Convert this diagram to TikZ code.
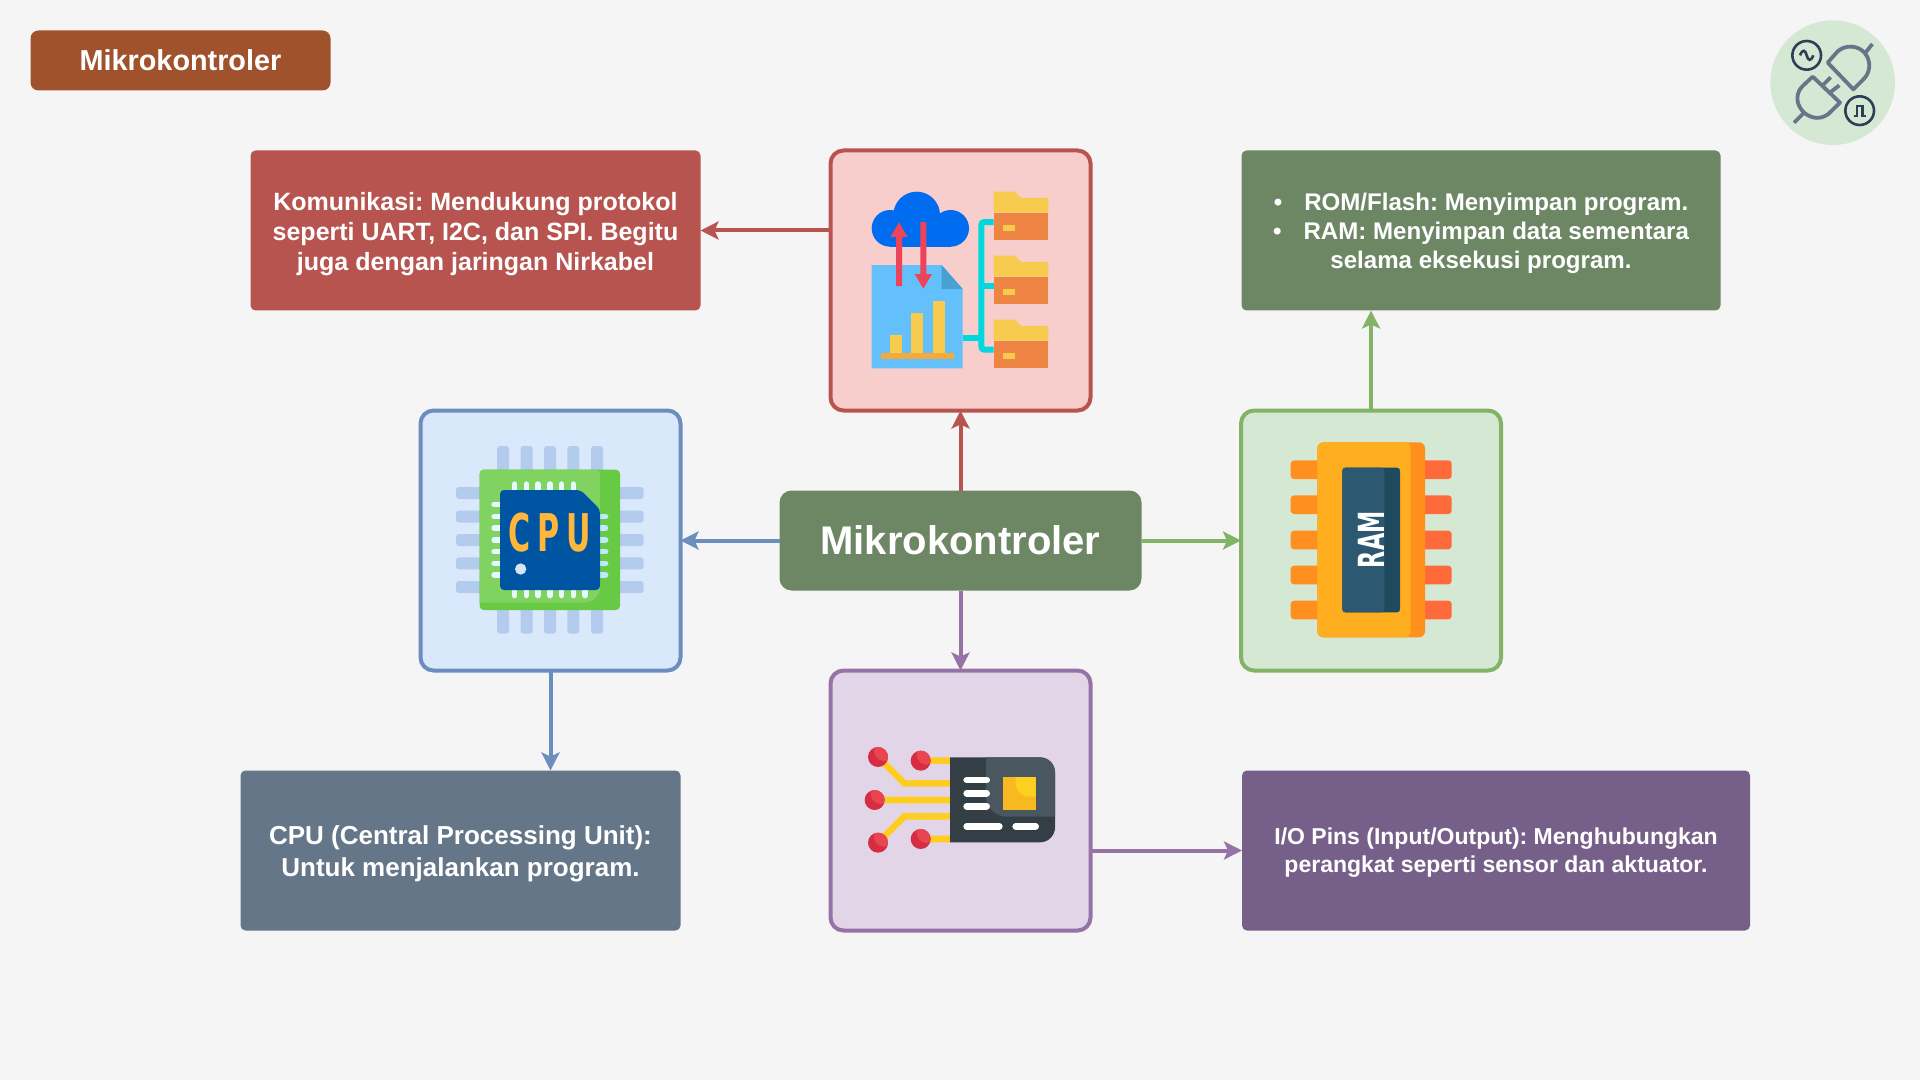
\documentclass[tikz,border=0pt]{standalone}
\usepackage{fontspec}
\usepackage{tikz}
\usetikzlibrary{arrows.meta}
\setmainfont{Liberation Sans}
\newfontfamily\dejavu{DejaVu Sans}
\frenchspacing

\definecolor{latar}{HTML}{F5F5F5}
\definecolor{merahgaris}{HTML}{B85450}
\definecolor{merahisi}{HTML}{F8CECC}
\definecolor{birugaris}{HTML}{6C8EBF}
\definecolor{biruisi}{HTML}{DAE8FC}
\definecolor{hijaugaris}{HTML}{82B366}
\definecolor{hijauisi}{HTML}{D5E8D4}
\definecolor{unggugaris}{HTML}{9673A6}
\definecolor{ungguisi}{HTML}{E1D5E7}
\definecolor{coklat}{HTML}{A0522D}
\definecolor{hijautua}{HTML}{6D8764}
\definecolor{abutua}{HTML}{647687}
\definecolor{unggutua}{HTML}{76608A}
\definecolor{kuning}{HTML}{F6CB4E}
\definecolor{jingga}{HTML}{EF8545}
\definecolor{sian}{HTML}{00D7DF}
\definecolor{merahpanah}{HTML}{EE4459}
\definecolor{awan}{HTML}{006DF0}
\definecolor{dokumen}{HTML}{64C0FA}
\definecolor{lipatan}{HTML}{48A0D3}
\definecolor{alas}{HTML}{F4A93B}
\definecolor{pincpu}{HTML}{B3CBEC}
\definecolor{papan}{HTML}{68CA44}
\definecolor{papanmuda}{HTML}{80D261}
\definecolor{pinkiri}{HTML}{E6F9FB}
\definecolor{pinkanan}{HTML}{BFE9F9}
\definecolor{cip}{HTML}{0055A3}
\definecolor{titik}{HTML}{D6E4F7}
\definecolor{hurufcpu}{HTML}{FFB63B}
\definecolor{pinram}{HTML}{FF9020}
\definecolor{pinrammerah}{HTML}{FF6A3A}
\definecolor{badan}{HTML}{FF901C}
\definecolor{badanmuda}{HTML}{FFAE20}
\definecolor{layar}{HTML}{1F4A5D}
\definecolor{layarmuda}{HTML}{2D5871}
\definecolor{emas}{HTML}{FFCD1F}
\definecolor{kartu}{HTML}{333F45}
\definecolor{kartumuda}{HTML}{4A5761}
\definecolor{simcip}{HTML}{F8B81F}
\definecolor{simcipmuda}{HTML}{FCD01E}
\definecolor{bulat}{HTML}{D62D42}
\definecolor{bulatmuda}{HTML}{E84550}
\definecolor{tinta}{HTML}{2D3F55}

\newcommand{\turun}[1]{\rule{0pt}{#1}}

\tikzset{
    ikonbox/.style n args={2}{draw=#1, fill=#2, line width=2pt, rounded corners=6.5pt,
        minimum width=130pt, minimum height=130pt, outer sep=0pt},
    teksbox/.style n args={3}{fill=#1, rounded corners=2.5pt, text=white, align=center,
        minimum width=#2, minimum height=80pt, outer sep=0pt, inner sep=0pt,
        font=\bfseries#3},
    panah/.style={-{Stealth[length=9pt,width=9pt,inset=2pt]}, line width=2pt}
}

\begin{document}
\begin{tikzpicture}[x=0.5pt,y=-0.5pt]
        % Latar
        \fill[latar] (0,0) rectangle (1920,1080);

        % Judul dan kotak tengah
        \node[fill=coklat, rounded corners=4pt, text=white, minimum width=150pt, minimum height=30pt,
            outer sep=0pt, font=\bfseries\fontsize{14.4}{17}\selectfont] (judul) at (180.5,60.5) {Mikrokontroler};
        \node[fill=hijautua, rounded corners=6pt, text=white, minimum width=181pt, minimum height=50pt,
            outer sep=0pt, font=\bfseries\fontsize{20}{24}\selectfont] (pusat) at (960.5,540.5) {Mikrokontroler};

        % Kotak ikon
        \node[ikonbox={merahgaris}{merahisi}] (ikonnet) at (960.5,280.5) {};
        \node[ikonbox={birugaris}{biruisi}] (ikoncpu) at (550.5,540.5) {};
        \node[ikonbox={hijaugaris}{hijauisi}] (ikonram) at (1371,540.5) {};
        \node[ikonbox={unggugaris}{ungguisi}] (ikonio) at (960.5,800.5) {};

        % Kotak teks
        \node[teksbox={merahgaris}{225pt}{\fontsize{12.5}{15}\selectfont}] (boxkom) at (475.5,230.5)
            {\turun{12.7pt}Komunikasi: Mendukung protokol\\seperti UART, I2C, dan SPI. Begitu\\juga dengan jaringan Nirkabel};
        \node[teksbox={hijautua}{239.5pt}{\fontsize{12.04}{14.5}\selectfont}] (boxrom) at (1481,230.5)
            {\turun{11.2pt}•\hspace{7.7pt} ROM/Flash: Menyimpan program.\\•\hspace{7.7pt} RAM: Menyimpan data sementara\\selama eksekusi program.};
        \node[teksbox={abutua}{220pt}{\fontsize{13}{16}\selectfont}] (boxcpu) at (460.5,850.5)
            {\turun{12.4pt}CPU (Central Processing Unit):\\Untuk menjalankan program.};
        \node[teksbox={unggutua}{254pt}{\fontsize{11.5}{14}\selectfont}] (boxio) at (1496,850.5)
            {\turun{10.2pt}I/O Pins (Input/Output): Menghubungkan\\perangkat seperti sensor dan aktuator.};

        % Panah
        \draw[panah, merahgaris] (pusat.north) -- (ikonnet.south);
        \draw[panah, birugaris] (pusat.west) -- (ikoncpu.east);
        \draw[panah, hijaugaris] (pusat.east) -- (ikonram.west);
        \draw[panah, unggugaris] (pusat.south) -- (ikonio.north);
        \draw[panah, merahgaris] (ikonnet.west |- boxkom.east) -- (boxkom.east);
        \draw[panah, hijaugaris] (ikonram.north) -- (ikonram.north |- boxrom.south);
        \draw[panah, birugaris] (ikoncpu.south) -- (ikoncpu.south |- boxcpu.north);
        \draw[panah, unggugaris] (ikonio.east |- boxio.west) -- (boxio.west);

        % Ikon jaringan
        \begin{scope}[shift={(820,140)},x=0.16667pt,y=-0.16667pt]
            \fill[awan] (210,265) circle (55);
            \fill[awan] (290,225) circle (70);
            \fill[awan] (392,265) circle (55);
            \fill[awan] (210,250) rectangle (392,320);
            \fill[dokumen] (155,375) -- (365,375) -- (428,447) -- (428,685) -- (155,685) -- cycle;
            \fill[lipatan] (365,375) -- (428,447) -- (365,447) -- cycle;
            \fill[kuning] (210,585) rectangle (246,640);
            \fill[kuning] (273,520) rectangle (310,640);
            \fill[kuning] (338,484) rectangle (375,640);
            \fill[alas] (183,640) rectangle (401,657);
            \fill[merahpanah] (228,438) -- (228,291) -- (211,291) -- (237,247) -- (263,291) -- (246,291) -- (246,438) -- cycle;
            \fill[merahpanah] (301,246) -- (301,402) -- (284,402) -- (310,446) -- (336,402) -- (319,402) -- (319,246) -- cycle;
            \draw[sian, line width=3pt, rounded corners=1.5pt] (521,246) -- (484,246) -- (484,629) -- (521,629);
            \draw[sian, line width=3pt] (428,594) -- (484,594) (484,438) -- (521,438);
            \foreach \y in {0,192,384}
            {
                \fill[kuning] (521,155+\y) -- (585,155+\y) -- (603,174+\y) -- (685,174+\y) -- (685,218+\y) -- (521,218+\y) -- cycle;
                \fill[jingga] (521,218+\y) rectangle (685,300+\y);
                \fill[kuning] (548,255+\y) rectangle (585,273+\y);
            }
        \end{scope}

        % Ikon CPU
        \begin{scope}[shift={(415,405)},x=0.16667pt,y=-0.16667pt]
            \foreach \p in {264,335,405,475,546}
            {
                \fill[pincpu, rounded corners=1.5pt] (\p-18,123) rectangle (\p+18,686);
                \fill[pincpu, rounded corners=1.5pt] (123,\p-18) rectangle (686,\p+18);
            }
            \fill[papan, rounded corners=2pt] (194,194) rectangle (615,615);
            \fill[papanmuda] (194,593) [rounded corners=2pt] -- (194,194) -- (555,194) [rounded corners=8pt] -- (555,593) [sharp corners] -- cycle;
            \foreach \p in {299,334,369,405,440,475}
            {
                \draw[pinkiri, line width=2.7pt, line cap=round] (\p,237) -- (\p,260);
                \draw[pinkiri, line width=2.7pt, line cap=round] (237,\p) -- (260,\p);
            }
            \foreach \p in {299,334,369,405,440,475,510}
                \draw[pinkiri, line width=2.7pt, line cap=round] (\p,550) -- (\p,572);
            \draw[pinkiri, line width=2.7pt, line cap=round] (237,510) -- (260,510);
            \foreach \p in {334,369,405,440,475,510}
                \draw[pinkanan, line width=2.7pt, line cap=round] (550,\p) -- (572,\p);
            \fill[cip, rounded corners=2pt] (255,255) -- (497,255) -- (555,313) -- (555,555) -- (255,555) -- cycle;
            \fill[titik] (317,492) circle (17);
            \node[text=hurufcpu, xscale=0.58, inner sep=0pt,
                font=\dejavu\bfseries\fontsize{26}{28}\selectfont] (tekscpu) at (403,382) {C\kern6pt P\kern6pt U};
        \end{scope}

        % Ikon RAM
        \begin{scope}[shift={(1235,405)},x=0.16667pt,y=-0.16667pt]
            \foreach \p in {194,299,405,510,615}
            {
                \fill[pinram, rounded corners=1.7pt] (167,\p-28) rectangle (270,\p+28);
                \fill[pinrammerah, rounded corners=1.7pt] (545,\p-28) rectangle (650,\p+28);
            }
            \fill[badan, rounded corners=3pt] (247,112) rectangle (570,697);
            \fill[badanmuda, rounded corners=3pt] (247,112) rectangle (527,697);
            \fill[layar, rounded corners=1.5pt] (322,188) rectangle (495,622);
            \fill[layarmuda, rounded corners=1.5pt] (322,188) rectangle (448,622);
            \node[text=white, rotate=90, xscale=0.62, inner sep=0pt,
                font=\dejavu\bfseries\fontsize{18}{20}\selectfont] (teksram) at (409,404) {RAM};
        \end{scope}

        % Ikon I/O
        \begin{scope}[shift={(825,665)},x=0.16667pt,y=-0.16667pt]
            \draw[emas, line width=3.3pt] (287,287) -- (375,287) (375,355) -- (238,355) -- (159,276)
                (149,405) -- (375,405) (375,454) -- (238,454) -- (159,533) (287,522) -- (375,522);
            \fill[kartu] (375,277) -- (645,277) arc (-90:0:45) -- (690,487) arc (0:90:45) -- (375,532) -- cycle;
            \fill[kartumuda] (483,277) -- (645,277) arc (-90:0:45) -- (690,455) -- (545,455) arc (90:180:62) -- cycle;
            \foreach \xa/\xb/\y in {425/485/345, 425/485/385, 425/485/424, 425/523/484, 572/632/484}
                \draw[white, line width=3.3pt, line cap=round] (\xa,\y) -- (\xb,\y);
            \fill[simcip] (533,336) rectangle (632,435);
            \fill[simcipmuda] (572,336) -- (632,336) -- (632,395) -- (612,395) arc (90:180:40) -- cycle;
            \foreach \x/\y in {159/276, 287/287, 149/405, 159/533, 287/522}
            {
                \fill[bulat] (\x,\y) circle (30);
                \begin{scope}
                    \clip (\x,\y) circle (30);
                    \fill[bulatmuda] (\x+18,\y-18) circle (30);
                \end{scope}
            }
        \end{scope}

        % Ikon colokan
        \begin{scope}[shift={(1760,10)},x=0.16667pt,y=-0.16667pt]
            \fill[hijauisi] (218,218) circle (187);
            \draw[abutua, line width=1.9pt, line join=round]
                (280,238) -- (203,158) -- (232,125) .. controls (255,103) and (295,105) .. (315,130)
                .. controls (335,155) and (330,190) .. (310,208) -- cycle;
            \draw[abutua, line width=1.9pt] (315,130) -- (337,102);
            \draw[abutua, line width=1.9pt, line join=round]
                (158,200) -- (240,278) -- (205,312) .. controls (175,335) and (140,320) .. (125,300)
                .. controls (105,275) and (110,245) .. (128,228) -- cycle;
            \draw[abutua, line width=1.9pt] (130,310) -- (102,338) (190,224) -- (212,202) (212,246) -- (238,226);
            \draw[tinta, line width=1.3pt] (140,136) circle (43) (299,302) circle (43);
            \draw[tinta, line width=1.3pt] (120,136) .. controls (128,116) and (136,120) .. (140,136) .. controls (144,152) and (152,156) .. (160,136);
            \draw[tinta, line width=1.3pt] (282,318) -- (291,318) -- (291,288) -- (308,288) -- (308,318) -- (317,318);
        \end{scope}
    \end{tikzpicture}
\end{document}
